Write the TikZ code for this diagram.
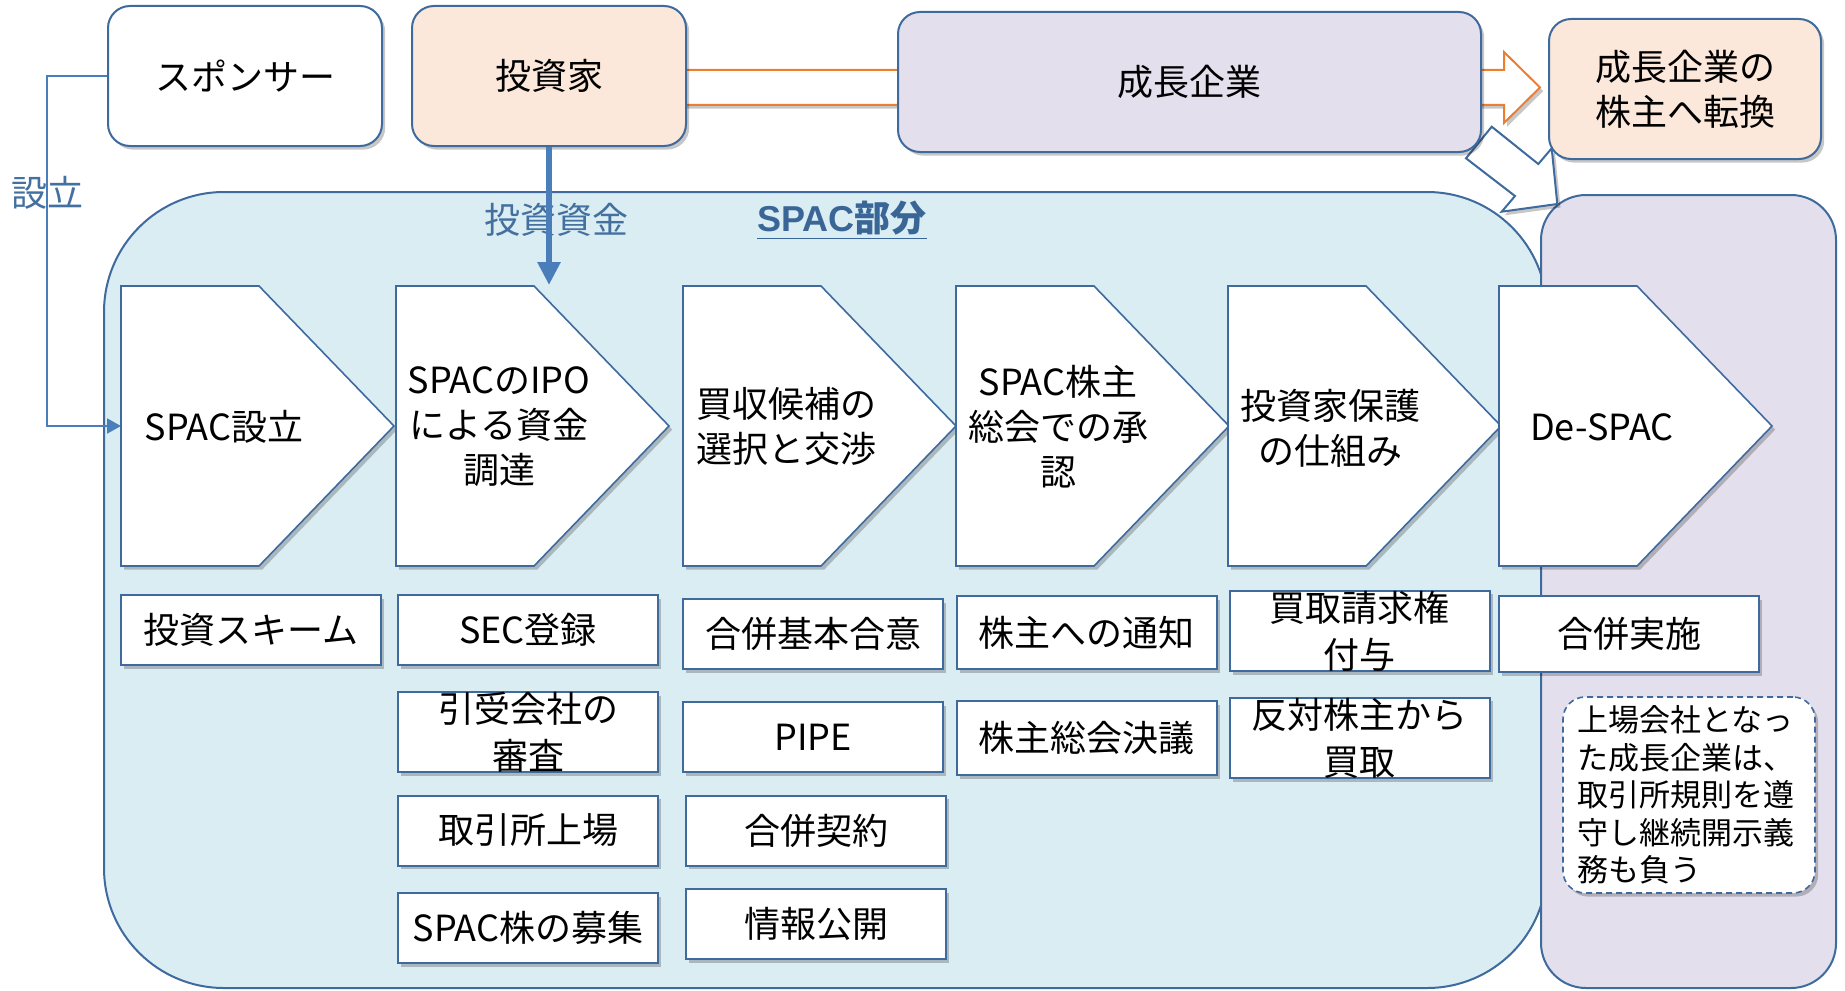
\documentclass[tikz,border=0pt]{standalone}
\usepackage{fontspec}
\setmainfont{Noto Sans CJK JP}
\newfontfamily\arialfont{Liberation Sans}
\usetikzlibrary{arrows.meta,shadows}
\definecolor{bord}{HTML}{3E6A9E}
\definecolor{panelblue}{HTML}{DAEDF3}
\definecolor{lav}{HTML}{E4DFEC}
\definecolor{peach}{HTML}{FCE8DA}
\definecolor{orng}{HTML}{ED7D31}
\definecolor{arrblue}{HTML}{4A7EBB}
\definecolor{lblblue}{HTML}{44709F}
\definecolor{spacblue}{HTML}{3A6597}
\begin{document}
\begin{tikzpicture}[x=0.5pt,y=-0.5pt,
  shd/.style={drop shadow={shadow xshift=1.6pt,shadow yshift=-1.8pt,opacity=0.22,fill=black}},
  topbox/.style={draw=bord,line width=1pt,rounded corners=11pt,shd,inner sep=0pt,
    minimum width=137pt,minimum height=70pt,font=\fontsize{18}{22.5}\selectfont,align=center},
  subbox/.style={draw=bord,fill=white,line width=1pt,shd,inner sep=0pt,
    minimum width=130pt,minimum height=35pt,font=\fontsize{18}{23.5}\selectfont,align=center},
  chev/.style={draw=bord,fill=white,line width=0.8pt,shd},
  chevtxt/.style={font=\fontsize{18}{22.5}\selectfont,align=center,inner sep=0pt},
  bluelbl/.style={text=lblblue,font=\fontsize{18}{22}\selectfont,inner sep=0pt},
  setline/.style={draw=arrblue,line width=1pt},
  bigarrow/.style={fill=white,line width=1pt,shd}
]
\useasboundingbox (0,0) rectangle (1845,990);

% orange open arrow from investor to conversion box
\path[bigarrow,draw=orng] (600,70) -- (1504,70) -- (1504,52) -- (1540,87.5)
  -- (1504,123) -- (1504,105) -- (600,105) -- cycle;

% panels
\path[draw=bord,fill=panelblue,line width=1pt,rounded corners=60pt] (104,192) rectangle (1547,988);
\path[draw=bord,fill=lav,line width=1pt,rounded corners=22.5pt] (1541,195) rectangle (1836,988);

% diagonal open arrow
\path[bigarrow,draw=bord] (1466,158.3) -- (1491.7,126.7) -- (1538.3,164) -- (1551.7,148.3)
  -- (1557.3,204) -- (1501.7,211.7) -- (1515,196) -- cycle;

% top boxes
\node[topbox,fill=white] (sponsor) at (245,76) {スポンサー};
\node[topbox,fill=peach] (investor) at (549,76) {投資家};
\node[topbox,fill=lav,minimum width=291.5pt] (growth) at (1189.5,82) {成長企業};
\node[topbox,fill=peach,minimum width=136pt] (convert) at (1685,89) {成長企業の\\株主へ転換};

% chevrons
\foreach \L in {121,396,683,956,1228,1499} {
  \path[chev] (\L,286) -- (\L+138,286) -- (\L+273,426) -- (\L+138,566) -- (\L,566) -- cycle;
}
\node[chevtxt] (t1) at (224,427) {SPAC設立};
\node[chevtxt] (t2) at (499,427) {SPACのIPO\\による資金\\調達};
\node[chevtxt] (t3) at (786,426) {買収候補の\\選択と交渉};
\node[chevtxt] (t4) at (1058,427) {SPAC株主\\総会での承\\認};
\node[chevtxt] (t5) at (1330,428) {投資家保護\\の仕組み};
\node[chevtxt] (t6) at (1602,427) {De-SPAC};
\coordinate (c1w) at (121,426);
\coordinate (c2top) at (549,285);

% sub boxes
\node[subbox] (s11) at (251,630) {投資スキーム};
\node[subbox] (s21) at (528,630) {SEC登録};
\node[subbox] (s22) at (528,732) {引受会社の\\審査};
\node[subbox] (s23) at (528,830.5) {取引所上場};
\node[subbox] (s24) at (528,928) {SPAC株の募集};
\node[subbox] (s31) at (813,634) {合併基本合意};
\node[subbox] (s32) at (813,737) {PIPE};
\node[subbox] (s33) at (816,830.5) {合併契約};
\node[subbox] (s34) at (816,924) {情報公開};
\node[subbox,minimum height=36.5pt] (s41) at (1086.5,632.5) {株主への通知};
\node[subbox,minimum height=37pt] (s42) at (1086.5,738) {株主総会決議};
\node[subbox,minimum height=38pt] (s51) at (1359.5,631) {買取請求権\\付与};
\node[subbox,minimum height=37pt] (s52) at (1359.5,738) {反対株主から\\買取};
\node[subbox,minimum height=38pt] (s61) at (1629,634) {合併実施};

% note
\node[draw=bord,dashed,dash pattern=on 3pt off 2pt,fill=white,line width=0.8pt,rounded corners=11pt,shd,
  minimum width=126pt,minimum height=98pt,inner xsep=6pt,inner ysep=0pt,text width=112pt,align=left,
  font=\fontsize{15.5}{18.75}\selectfont] (note) at (1689,795)
  {上場会社となっ\\た成長企業は、\\取引所規則を遵\\守し継続開示義\\務も負う};

% labels
\node[bluelbl] (setsu) at (47,193) {設立};
\node[bluelbl] (fund) at (556,220) {投資資金};
\node[text=spacblue,inner sep=0pt] (spac) at (842,220)
  {\underline{\fontsize{18}{22}\selectfont\arialfont\bfseries SPAC\rmfamily\bfseries 部分}};

% connectors
\coordinate (k1) at (46.7,76);
\draw[setline,-{Triangle[length=7pt,width=7.5pt]}] (sponsor.west) -- (k1) |- (c1w);
\draw[draw=arrblue,line width=3pt,-{Triangle[length=11.5pt,width=11pt]}] (investor.south) -- (c2top);
\end{tikzpicture}
\end{document}
